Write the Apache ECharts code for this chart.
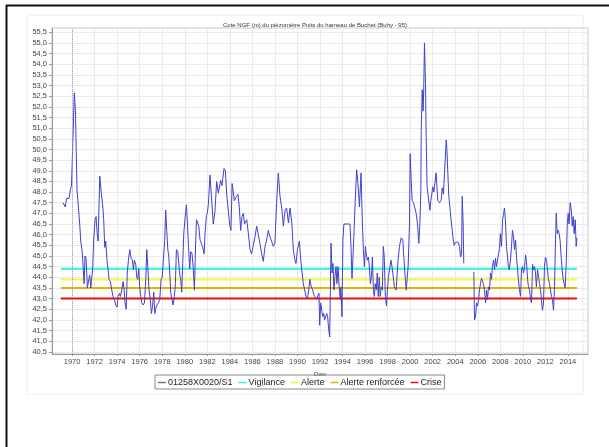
<!DOCTYPE html>
<html lang="fr">
<head>
    <meta charset="UTF-8">
    <title>Cote NGF - Puits du hameau de Buchet</title>
    <style>
        * { margin: 0; padding: 0; }
        html, body { width: 100%; height: 100%; background: #fff; }
        #chart { width: 609px; height: 447px; }
    </style>
    <script src="https://cdn.jsdelivr.net/npm/echarts@6/dist/echarts.min.js"></script>
</head>
<body>
<div id="chart"></div>
<script>
    // niveaux relevés (année décimale, cote NGF en m) ; null = lacune
    const years = [
        1969.2, 1969.4, 1969.5, 1969.73, 1969.85, 1969.95, 1970.2, 1970.3, 1970.44, 1970.68,
        1970.77, 1970.9, 1970.98, 1971.07, 1971.15, 1971.24, 1971.36, 1971.48, 1971.57, 1971.66,
        1971.75, 1971.83, 1971.92, 1972.04, 1972.13, 1972.22, 1972.31, 1972.46, 1972.6, 1972.7,
        1972.81, 1972.9, 1972.99, 1973.1, 1973.2, 1973.28, 1973.4, 1973.52, 1973.64, 1973.76,
        1973.88, 1974.0, 1974.08, 1974.2, 1974.29, 1974.41, 1974.53, 1974.62, 1974.7, 1974.8,
        1974.9, 1975.0, 1975.12, 1975.24, 1975.36, 1975.44, 1975.53, 1975.65, 1975.74, 1975.83,
        1975.92, 1976.0, 1976.1, 1976.18, 1976.3, 1976.42, 1976.54, 1976.63, 1976.72, 1976.83,
        1976.95, 1977.04, 1977.13, 1977.25, 1977.34, 1977.43, 1977.54, 1977.66, 1977.78, 1977.9,
        1978.0, 1978.14, 1978.22, 1978.31, 1978.4, 1978.5, 1978.58, 1978.67, 1978.76, 1978.85,
        1978.96, 1979.08, 1979.17, 1979.26, 1979.38, 1979.47, 1979.56, 1979.64, 1979.73, 1979.82,
        1979.91, 1980.03, 1980.15, 1980.24, 1980.33, 1980.44, 1980.53, 1980.65, 1980.74, 1980.86,
        1980.95, 1981.04, 1981.15, 1981.24, 1981.36, 1981.48, 1981.6, 1981.72, 1981.8, 1981.92,
        1982.0, 1982.1, 1982.24, 1982.53, 1982.68, 1982.83, 1982.98, 1983.12, 1983.18, 1983.3,
        1983.48, 1983.6, 1983.72, 1983.86, 1984.0, 1984.1, 1984.2, 1984.4, 1984.6, 1984.72,
        1984.84, 1984.96, 1985.08, 1985.2, 1985.3, 1985.5, 1985.64, 1985.79, 1985.93, 1986.08,
        1986.23, 1986.38, 1986.53, 1986.67, 1986.82, 1986.97, 1987.12, 1987.27, 1987.41, 1987.56,
        1987.7, 1987.86, 1988.0, 1988.15, 1988.3, 1988.45, 1988.6, 1988.75, 1988.9, 1989.04,
        1989.2, 1989.34, 1989.5, 1989.63, 1989.78, 1989.87, 1990.0, 1990.17, 1990.28, 1990.4,
        1990.52, 1990.64, 1990.76, 1990.88, 1991.0, 1991.1, 1991.23, 1991.35, 1991.47, 1991.58,
        1991.7, 1991.82, 1991.91, 1991.97, 1992.06, 1992.15, 1992.24, 1992.33, 1992.41, 1992.5,
        1992.6, 1992.68, 1992.77, 1992.86, 1992.92, 1992.98, 1993.07, 1993.15, 1993.24, 1993.33,
        1993.42, 1993.5, 1993.6, 1993.7, 1993.8, 1993.86, 1993.95, 1994.03, 1994.12, 1994.24,
        1994.42, 1994.66, 1994.75, 1994.84, 1994.93, 1995.0, 1995.12, 1995.25, 1995.37, 1995.5,
        1995.64, 1995.76, 1995.85, 1995.94, 1996.03, 1996.1, 1996.2, 1996.3, 1996.38, 1996.47,
        1996.56, 1996.65, 1996.74, 1996.82, 1996.9, 1997.0, 1997.08, 1997.17, 1997.26, 1997.34,
        1997.44, 1997.53, 1997.62, 1997.7, 1997.8, 1997.9, 1997.98, 1998.07, 1998.17, 1998.31,
        1998.46, 1998.6, 1998.76, 1998.85, 1998.93, 1999.05, 1999.2, 1999.35, 1999.44, 1999.53,
        1999.65, 1999.73, 1999.82, 1999.94, 2000.0, 2000.09, 2000.18, 2000.3, 2000.41, 2000.53,
        2000.65, 2000.77, 2000.86, 2000.95, 2000.98, 2001.07, 2001.15, 2001.2, 2001.27, 2001.36,
        2001.42, 2001.5, 2001.58, 2001.66, 2001.75, 2001.83, 2001.92, 2002.0, 2002.1, 2002.3,
        2002.45, 2002.6, 2002.75, 2002.85, 2002.95, 2003.2, 2003.26, 2003.37, 2003.43, 2003.55,
        2003.67, 2003.79, 2003.9, 2004.02, 2004.14, 2004.26, 2004.38, 2004.47, 2004.56, 2004.62,
        2004.7, 2004.76, 2005.2, 2005.65, 2005.71, 2005.8, 2005.89, 2005.98, 2006.07, 2006.15,
        2006.24, 2006.33, 2006.42, 2006.5, 2006.6, 2006.69, 2006.78, 2006.86, 2006.95, 2007.04,
        2007.13, 2007.22, 2007.3, 2007.4, 2007.49, 2007.57, 2007.66, 2007.75, 2007.84, 2007.93,
        2008.0, 2008.1, 2008.2, 2008.28, 2008.37, 2008.46, 2008.55, 2008.64, 2008.72, 2008.8,
        2008.9, 2008.99, 2009.08, 2009.17, 2009.26, 2009.35, 2009.44, 2009.53, 2009.6, 2009.7,
        2009.8, 2009.88, 2009.97, 2010.06, 2010.15, 2010.24, 2010.32, 2010.42, 2010.5, 2010.6,
        2010.68, 2010.77, 2010.86, 2010.95, 2011.04, 2011.12, 2011.2, 2011.3, 2011.39, 2011.48,
        2011.57, 2011.65, 2011.74, 2011.83, 2011.92, 2012.0, 2012.1, 2012.18, 2012.27, 2012.37,
        2012.45, 2012.54, 2012.63, 2012.72, 2012.8, 2012.9, 2012.96, 2013.05, 2013.14, 2013.22,
        2013.3, 2013.4, 2013.49, 2013.58, 2013.66, 2013.75, 2013.85, 2013.94, 2014.02, 2014.1,
        2014.2, 2014.3, 2014.38, 2014.47, 2014.55, 2014.65, 2014.73, 2014.8
    ];
    const levels = [
        47.5, 47.3, 47.7, 47.7, 48.1, 48.3, 52.65, 51.8, 48.1, 46.5,
        45.7, 45.2, 44.5, 43.7, 45.0, 44.9, 43.5, 43.9, 44.1, 43.5,
        44.0, 44.4, 45.75, 46.7, 46.85, 46.1, 45.7, 48.75, 47.9, 47.5,
        46.7, 45.4, 45.7, 44.8, 44.35, 43.9, 43.8, 43.4, 43.1, 42.95,
        42.7, 42.6, 43.1, 43.25, 43.1, 43.4, 43.8, 43.4, 42.8, 42.5,
        44.2, 44.8, 45.3, 44.9, 44.8, 44.35, 44.8, 44.6, 44.0, 43.9,
        44.4, 43.55, 43.1, 42.8, 42.7, 42.8, 43.9, 45.3, 44.5, 43.4,
        42.95, 42.3, 42.6, 43.3, 42.3, 42.55, 42.7, 42.8, 42.95, 43.9,
        44.0, 44.05, 45.75, 47.15, 46.2, 45.3, 45.0, 44.2, 43.25, 43.0,
        42.7, 43.1, 43.7, 45.3, 45.2, 45.2, 44.1, 43.9, 43.3, 44.65,
        46.05, 46.8, 47.4, 46.5, 45.45, 44.4, 45.2, 45.1, 44.5, 43.4,
        45.3, 46.7, 46.75, 46.4, 45.75, 45.67, 45.4, 45.1, 46.05, 46.9,
        47.0, 47.45, 48.8, 46.5, 47.1, 48.5, 47.95, 47.9, 48.55, 48.3,
        49.1, 49.0, 47.9, 47.15, 46.4, 46.2, 48.4, 47.6, 47.8, 47.9,
        47.3, 46.2, 46.85, 47.0, 46.5, 46.7, 46.07, 45.3, 45.1, 45.1,
        45.9, 46.4, 46.4, 45.6, 45.1, 44.75, 45.45, 45.75, 46.2, 45.9,
        45.7, 45.45, 45.6, 47.5, 48.9, 47.8, 47.3, 46.4, 47.15, 47.25,
        46.55, 47.25, 46.55, 45.3, 44.8, 44.65, 45.3, 45.7, 44.9, 44.25,
        43.7, 43.4, 43.1, 43.0, 43.4, 43.9, 43.55, 43.4, 43.15, 43.1,
        43.0, 43.0, 43.25, 41.75, 42.8, 42.45, 42.15, 42.3, 42.0, 42.15,
        42.3, 42.15, 41.55, 41.2, 43.4, 45.6, 44.2, 44.65, 43.4, 44.05,
        44.5, 43.7, 44.5, 43.55, 42.95, 43.55, 42.15, 45.75, 46.5, 46.5,
        46.5, 46.5, 45.45, 43.95, 45.0, 45.9, 47.5, 49.05, 48.4, 47.3,
        48.9, 46.55, 45.3, 44.5, 45.45, 45.1, 44.8, 44.95, 44.5, 43.7,
        44.0, 44.95, 43.4, 43.1, 43.7, 43.4, 44.2, 43.1, 44.0, 43.1,
        43.55, 43.4, 45.45, 44.95, 43.1, 42.65, 43.4, 44.0, 44.4, 44.8,
        44.2, 43.55, 43.4, 44.2, 44.8, 45.45, 45.85, 45.75, 44.95, 44.2,
        43.4, 43.9, 44.5, 46.5, 49.8, 48.55, 47.6, 47.5, 47.5, 47.0,
        46.5, 45.6, 46.5, 48.1, 50.9, 52.8, 51.8, 52.7, 55.0, 53.1,
        50.6, 48.25, 47.9, 47.85, 47.15, 47.6, 47.9, 48.25, 48.0, 48.9,
        47.6, 47.5, 47.6, 48.2, 47.9, 50.45, 50.0, 48.55, 47.8, 47.15,
        46.5, 45.9, 45.5, 45.65, 45.6, 45.65, 45.45, 44.95, 45.1, 47.8,
        46.5, 44.65, null, 44.25, 42.0, 42.15, 42.8, 42.65, 42.95, 43.4,
        43.7, 43.95, 43.9, 43.7, 43.4, 42.8, 43.4, 42.95, 43.55, 43.4,
        44.2, 43.9, 44.5, 44.8, 44.35, 44.9, 44.5, 44.8, 45.1, 45.35,
        46.05, 45.45, 46.7, 46.95, 47.25, 46.6, 45.45, 44.95, 44.5, 44.35,
        44.8, 45.45, 46.2, 45.9, 45.3, 45.75, 44.95, 44.35, 43.9, 43.4,
        43.1, 44.35, 44.5, 44.2, 44.5, 45.05, 44.75, 43.9, 43.55, 43.4,
        42.95, 42.8, 44.6, 44.35, 44.5, 44.2, 43.55, 44.35, 44.05, 43.7,
        43.4, 42.95, 42.45, 42.8, 44.5, 44.95, 44.8, 44.35, 43.9, 43.7,
        43.4, 43.1, 42.95, 42.45, 43.4, 45.75, 47.0, 46.05, 46.2, 46.05,
        45.75, 44.95, 44.35, 43.9, 43.7, 43.5, 44.65, 46.5, 47.0, 46.5,
        47.5, 47.15, 46.4, 46.85, 46.05, 46.7, 45.45, 45.85
    ];

    // seuils
    const thresholdNames = ['Vigilance', 'Alerte', 'Alerte renforcée', 'Crise'];
    const thresholdValues = [44.4, 43.9, 43.5, 43.0];
    const thresholdSpan = [1969.0, 2014.8];

    const seriesName = '01258X0020/S1';
    const xTicks = [1970, 1972, 1974, 1976, 1978, 1980, 1982, 1984, 1986, 1988, 1990, 1992,
        1994, 1996, 1998, 2000, 2002, 2004, 2006, 2008, 2010, 2012, 2014];
    const yTicks = [40.5, 41, 41.5, 42, 42.5, 43, 43.5, 44, 44.5, 45, 45.5, 46, 46.5, 47, 47.5,
        48, 48.5, 49, 49.5, 50, 50.5, 51, 51.5, 52, 52.5, 53, 53.5, 54, 54.5, 55, 55.5];

    const thresholdColors = ['#33eeee', '#f5f53a', '#e0b400', '#e81010'];

    let chart = echarts.init(document.getElementById('chart'), null, {renderer: 'canvas'})

    let series = [{
        name: seriesName,
        type: 'line',
        data: years.map((y, i) => [y, levels[i]]),
        showSymbol: false,
        connectNulls: false,
        lineStyle: {color: '#4040d0', width: 1},
        itemStyle: {color: '#4040d0'},
        z: 3,
        markLine: {
            silent: true,
            symbol: 'none',
            label: {show: false},
            lineStyle: {color: '#9a9ae0', type: 'dotted', width: 1},
            data: [{xAxis: 1970}]
        }
    }]
    thresholdNames.forEach((name, i) => {
        series.push({
            name: name,
            type: 'line',
            data: thresholdSpan.map(x => [x, thresholdValues[i]]),
            showSymbol: false,
            lineStyle: {color: thresholdColors[i], width: 2},
            itemStyle: {color: thresholdColors[i]},
            z: 2
        })
    })

    let option = {
        animation: false,
        backgroundColor: '#fff',
        title: {
            text: 'Cote NGF (m) du piézomètre Puits du hameau de Buchet (Buhy - 95)',
            left: 310,
            top: 17,
            textAlign: 'center',
            textStyle: {fontFamily: 'Liberation Sans', fontSize: 6, fontWeight: 'normal', color: '#333'}
        },
        grid: {
            left: 52, right: 21, top: 28, bottom: 93,
            show: true, borderColor: '#c8c8c8', borderWidth: 1
        },
        legend: {
            left: 155,
            top: 375,
            padding: [3, 3, 2, 3],
            borderColor: '#888',
            borderWidth: 1,
            itemGap: 6,
            itemWidth: 8,
            itemHeight: 1.5,
            icon: 'rect',
            textStyle: {fontFamily: 'Liberation Sans', fontSize: 9, color: '#222', padding: [0, 0, 0, -3]},
            data: [
                {name: seriesName, itemStyle: {color: '#777'}},
                ...thresholdNames
            ]
        },
        xAxis: {
            type: 'value',
            min: 1968.22,
            max: 2015.78,
            name: 'Date',
            nameLocation: 'middle',
            nameGap: 13,
            nameTextStyle: {fontFamily: 'Liberation Sans', fontSize: 6, color: '#444'},
            axisLine: {show: true, lineStyle: {color: '#999'}},
            axisTick: {show: true, length: 2, lineStyle: {color: '#999'}, customValues: xTicks},
            axisLabel: {
                customValues: xTicks,
                fontFamily: 'Liberation Sans', fontSize: 7.5, color: '#444', margin: 4,
                formatter: v => String(Math.round(v))
            },
            splitLine: {show: true, lineStyle: {color: '#ebebeb', width: 1}}
        },
        yAxis: {
            type: 'value',
            min: 40.4,
            max: 55.7,
            axisLine: {show: true, lineStyle: {color: '#999'}},
            axisTick: {show: true, length: 3, lineStyle: {color: '#999'}, customValues: yTicks},
            axisLabel: {
                customValues: yTicks,
                fontFamily: 'Liberation Sans', fontSize: 7.5, color: '#444', margin: 5,
                formatter: v => v.toFixed(1).replace('.', ',')
            },
            splitLine: {show: true, lineStyle: {color: '#ebebeb', width: 1}}
        },
        graphic: [
            {type: 'rect', shape: {x: 27, y: 15, width: 556, height: 379}, style: {fill: 'none', stroke: '#ececec', lineWidth: 1}, silent: true, z: -1},
            {type: 'line', shape: {x1: 6, y1: 5.5, x2: 609, y2: 5.5}, style: {stroke: '#111', lineWidth: 2}, silent: true},
            {type: 'line', shape: {x1: 6.5, y1: 5, x2: 6.5, y2: 447}, style: {stroke: '#111', lineWidth: 2}, silent: true}
        ],
        series: series
    }
    chart.setOption(option)
</script>
</body>
</html>
